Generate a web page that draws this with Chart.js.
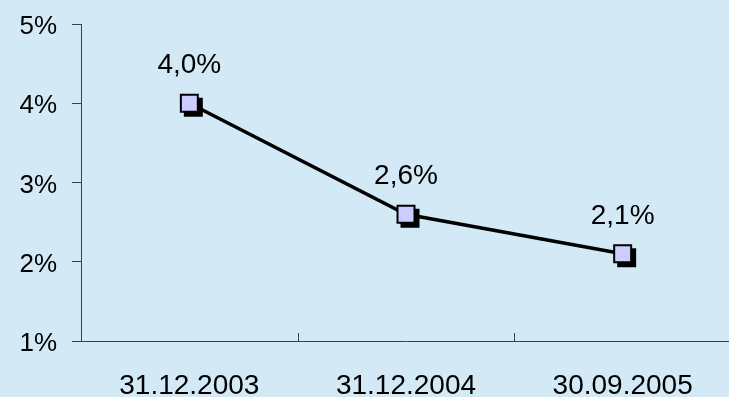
<!DOCTYPE html>
<html>
<head>
<meta charset="utf-8">
<script src="https://cdn.jsdelivr.net/npm/chart.js@4/dist/chart.umd.min.js"></script>
<style>
  html, body { margin: 0; padding: 0; background: #D3E9F6; overflow: hidden; }
  #wrap { width: 731px; height: 397px; }
</style>
</head>
<body>
<div id="wrap"><canvas id="c" width="731" height="397"></canvas></div>
<script>
// Dates of the observations and the rate at each date (percent)
const categories = ['31.12.2003', '31.12.2004', '30.09.2005'];
const rates = [4.0, 2.6, 2.1];
const yTicks = [1, 2, 3, 4, 5];

const AXIS = '#404040';
const FAMILY = 'Liberation Sans, Arial, sans-serif';

// Shift the shadow squares a few pixels down-right
const shadowShift = {
  id: 'shadowShift',
  beforeDatasetDraw(chart, args) {
    if (args.index === 1) { chart.ctx.save(); chart.ctx.translate(4, 4); }
  },
  afterDatasetDraw(chart, args) {
    if (args.index === 1) chart.ctx.restore();
  }
};

// Short tick marks on the category axis, pointing up into the plot
const innerTicks = {
  id: 'innerTicks',
  afterDatasetsDraw(chart) {
    const x = chart.scales.x, ctx = chart.ctx;
    const n = categories.length;
    const bottom = chart.chartArea.bottom;
    ctx.save();
    ctx.strokeStyle = AXIS;
    ctx.lineWidth = 1;
    for (let i = 0; i < n; i++) {
      const px = i === 0
        ? chart.chartArea.left
        : (x.getPixelForValue(i - 1) + x.getPixelForValue(i)) / 2;
      ctx.beginPath();
      ctx.moveTo(Math.round(px) + 0.5, bottom);
      ctx.lineTo(Math.round(px) + 0.5, bottom - 8);
      ctx.stroke();
    }
    ctx.restore();
  }
};

// Value labels above each point
const valueLabels = {
  id: 'valueLabels',
  afterDatasetsDraw(chart) {
    const ctx = chart.ctx;
    const meta = chart.getDatasetMeta(0);
    ctx.save();
    ctx.font = '28px ' + FAMILY;
    ctx.fillStyle = '#000';
    ctx.textAlign = 'center';
    ctx.textBaseline = 'alphabetic';
    meta.data.forEach((pt, i) => {
      const txt = rates[i].toFixed(1).replace('.', ',') + '%';
      ctx.fillText(txt, pt.x, pt.y - 30);
    });
    ctx.restore();
  }
};

new Chart(document.getElementById('c'), {
  type: 'line',
  data: {
    labels: categories,
    datasets: [
      {
        data: rates,
        borderColor: '#000',
        borderWidth: 3.5,
        pointStyle: 'rect',
        pointRadius: 12,
        pointHoverRadius: 12,
        pointBackgroundColor: '#CCCCFF',
        pointBorderColor: '#000',
        pointBorderWidth: 2,
        tension: 0,
        order: 0
      },
      {
        data: rates,
        showLine: false,
        pointStyle: 'rect',
        pointRadius: 12,
        pointHoverRadius: 12,
        pointBackgroundColor: '#000',
        pointBorderColor: '#000',
        pointBorderWidth: 2,
        order: 1
      }
    ]
  },
  options: {
    responsive: false,
    animation: false,
    events: [],
    layout: { autoPadding: false, padding: { top: 24, right: 0, left: 0, bottom: 0 } },
    plugins: { legend: { display: false }, tooltip: { enabled: false } },
    scales: {
      x: {
        offset: true,
        grid: { display: false, drawTicks: false },
        border: { display: true, color: AXIS, width: 1 },
        ticks: { color: '#000', font: { family: FAMILY, size: 28 }, padding: 28, maxRotation: 0 },
        afterFit(s) { s.height = 56; s.paddingLeft = 0; s.paddingRight = 0; }
      },
      y: {
        min: 1,
        max: 5,
        afterBuildTicks(s) { s.ticks = yTicks.map(v => ({ value: v })); },
        grid: { drawOnChartArea: false, drawTicks: true, tickLength: 9, color: AXIS },
        border: { display: true, color: AXIS, width: 1 },
        ticks: { color: '#000', font: { family: FAMILY, size: 26 }, padding: 15, labelOffset: 3, callback: v => v + '%' },
        afterFit(s) { s.width = 81; s.paddingTop = 0; s.paddingBottom = 0; }
      }
    }
  },
  plugins: [shadowShift, innerTicks, valueLabels]
});
</script>
</body>
</html>
